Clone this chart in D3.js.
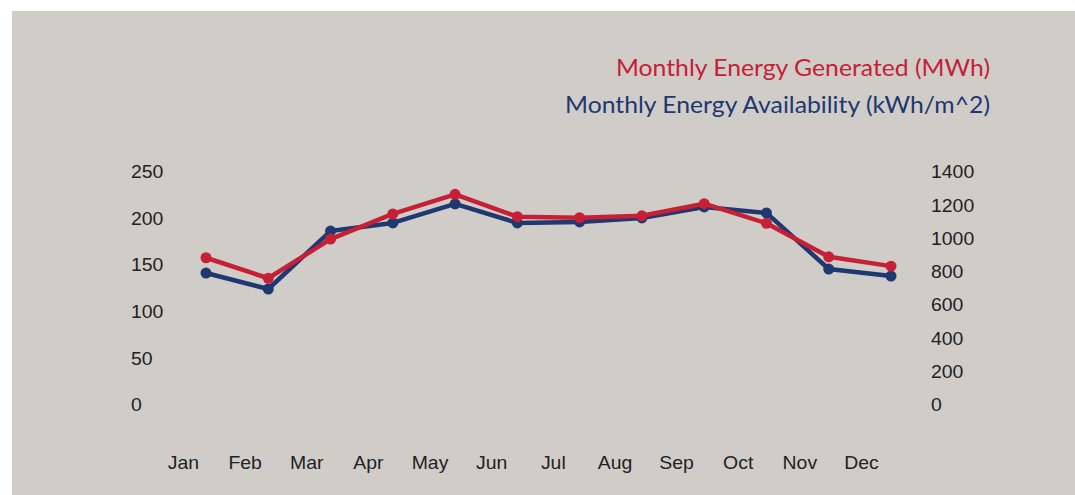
<!DOCTYPE html>
<html>
<head>
<meta charset="utf-8">
<script src="https://cdn.jsdelivr.net/npm/d3@7"></script>
<style>
  html, body { margin: 0; padding: 0; background: #ffffff; }
  svg { display: block; }
</style>
</head>
<body>
<svg id="chart" width="1075" height="495"></svg>
<script>
const months = ["Jan","Feb","Mar","Apr","May","Jun","Jul","Aug","Sep","Oct","Nov","Dec"];
const generatedMWh = [158, 136, 178, 205, 226, 202, 201, 203, 216, 195, 159, 149];
const availabilityKWh = [793, 697, 1045, 1094, 1208, 1094, 1100, 1124, 1190, 1154, 817, 775];
const leftTicks = [0, 50, 100, 150, 200, 250];
const rightTicks = [0, 200, 400, 600, 800, 1000, 1200, 1400];
const seriesNames = ["Monthly Energy Generated (MWh)", "Monthly Energy Availability (kWh/m^2)"];

const red = "#c62037";
const blue = "#1f3870";
const tickFont = "Liberation Sans, Arial, sans-serif";

const svg = d3.select("#chart");
svg.append("rect").attr("x", 12).attr("y", 11).attr("width", 1075 - 12).attr("height", 495 - 11)
  .attr("fill", "#d0cdc8");

const yTop = 172, yBottom = 405;
const yLeft = d3.scaleLinear().domain([0, 250]).range([yBottom, yTop]);
const yRight = d3.scaleLinear().domain([0, 1400]).range([yBottom, yTop]);
const x = d3.scalePoint().domain(months).range([206, 891]);
const xLabel = d3.scalePoint().domain(months).range([183, 861]);

function styleTicks(sel, anchor) {
  sel.select(".domain").remove();
  sel.selectAll("text")
    .attr("font-family", tickFont).attr("font-size", 18).attr("fill", "#222")
    .attr("text-anchor", anchor)
    .attr("transform", "scale(1.08,1)");
}

const leftAxis = svg.append("g").attr("transform", "translate(131,0)")
  .call(d3.axisLeft(yLeft).tickValues(leftTicks).tickSize(0).tickPadding(0));
styleTicks(leftAxis, "start");

const rightAxis = svg.append("g").attr("transform", "translate(931,0)")
  .call(d3.axisRight(yRight).tickValues(rightTicks).tickFormat(d3.format("d")).tickSize(0).tickPadding(0));
styleTicks(rightAxis, "start");

const xAxis = svg.append("g").attr("transform", "translate(0,463)")
  .call(d3.axisBottom(xLabel).tickSize(0).tickPadding(0));
styleTicks(xAxis, "middle");
xAxis.selectAll("text").attr("dy", "0.35em");

function drawSeries(values, yScale, color) {
  const line = d3.line().x((d, i) => x(months[i])).y(d => yScale(d));
  svg.append("path").datum(values).attr("d", line)
    .attr("fill", "none").attr("stroke", color).attr("stroke-width", 4.5)
    .attr("stroke-linejoin", "round");
  svg.append("g").selectAll("circle").data(values).join("circle")
    .attr("cx", (d, i) => x(months[i])).attr("cy", d => yScale(d)).attr("r", 5.5)
    .attr("fill", color);
}
drawSeries(availabilityKWh, yRight, blue);
drawSeries(generatedMWh, yLeft, red);

const legend = svg.append("g").attr("font-family", "Lato, 'Open Sans', sans-serif").attr("font-size", 22.5)
  .attr("text-anchor", "end");
legend.append("text").attr("transform", "translate(990,76) scale(1.1,1)").attr("fill", red).text(seriesNames[0]);
legend.append("text").attr("transform", "translate(990,113) scale(1.1,1)").attr("fill", blue).text(seriesNames[1]);
</script>
</body>
</html>
